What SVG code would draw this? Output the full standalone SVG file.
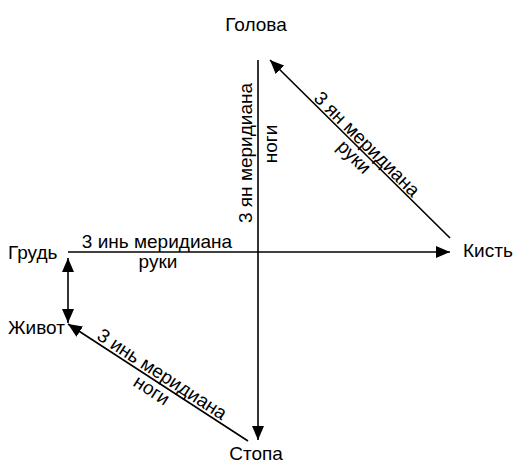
<svg xmlns="http://www.w3.org/2000/svg" width="514" height="463" viewBox="0 0 514 463">
<style>
text{font-family:"Liberation Sans",Arial,sans-serif;font-size:19px;fill:#000}
.m{text-anchor:middle}
.ln{stroke:#000;stroke-width:1.6;fill:none}
</style>
<defs>
<marker id="ah" markerUnits="userSpaceOnUse" markerWidth="16" markerHeight="12" refX="14" refY="6" orient="auto-start-reverse">
<path d="M0,0 L14,6 L0,12 Z" fill="#000"/>
</marker>
</defs>
<rect width="514" height="463" fill="#fff"/>
<g id="connectors">
<line class="ln" x1="258" y1="60" x2="258" y2="440" stroke-width="2" marker-end="url(#ah)"/>
<line class="ln" x1="450" y1="238" x2="270" y2="60" marker-end="url(#ah)"/>
<line class="ln" x1="68" y1="252" x2="450" y2="252" marker-end="url(#ah)"/>
<line class="ln" x1="68" y1="258" x2="68" y2="323" stroke-width="2" marker-start="url(#ah)" marker-end="url(#ah)"/>
<line class="ln" x1="248" y1="441" x2="68" y2="324" marker-end="url(#ah)"/>
<text class="m" transform="translate(252,153) rotate(-90)">3 ян меридиана</text>
<text class="m" transform="translate(277,144) rotate(-90)">ноги</text>
<text class="m" transform="translate(361,150) rotate(44.7)" y="-2">3 ян меридиана</text>
<text class="m" transform="translate(361,150) rotate(44.7)" y="16">руки</text>
<text class="m" x="157" y="248">3 инь меридиана</text>
<text class="m" x="158" y="268">руки</text>
<text class="m" transform="translate(157,382) rotate(33)" y="-3">3 инь меридиана</text>
<text class="m" transform="translate(157,382) rotate(33)" y="16">ноги</text>
</g>
<g id="golova"><text class="m" x="256" y="31">Голова</text></g>
<g id="kist"><text x="463" y="257">Кисть</text></g>
<g id="grud"><text x="8" y="259">Грудь</text></g>
<g id="zhivot"><text x="8" y="334">Живот</text></g>
<g id="stopa"><text class="m" x="256" y="460">Стопа</text></g>
</svg>
